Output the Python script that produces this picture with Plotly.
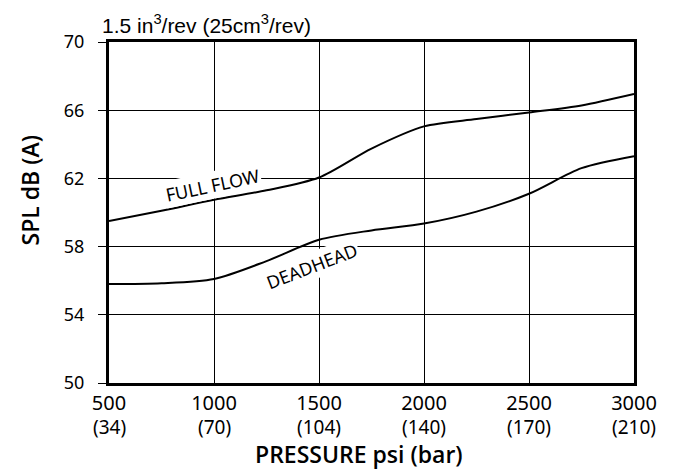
import plotly.graph_objects as go

pressure_psi = [500, 750, 1000, 1250, 1500, 1750, 2000, 2250, 2500, 2750, 3000]
full_flow_db = [59.5, 60.1, 60.75, 61.3, 62.05, 63.75, 65.05, 65.48, 65.87, 66.28, 66.95]
deadhead_db = [55.8, 55.85, 56.1, 57.15, 58.4, 58.95, 59.35, 60.05, 61.1, 62.6, 63.3]

x_tickvals = [500, 1000, 1500, 2000, 2500, 3000]
x_ticktext = ["500", "1000", "1500", "2000", "2500", "3000"]
x_bar_text = ["(34)", "(70)", "(104)", "(140)", "(170)", "(210)"]
y_tickvals = [50, 54, 58, 62, 66, 70]

FONT = "Noto Sans, Open Sans, sans-serif"
TFONT = "Open Sans, Noto Sans, sans-serif"

fig = go.Figure()
fig.add_trace(go.Scatter(x=pressure_psi, y=full_flow_db, mode="lines",
                         line=dict(color="black", width=2, shape="spline", smoothing=0.8),
                         showlegend=False, hoverinfo="skip"))
fig.add_trace(go.Scatter(x=pressure_psi, y=deadhead_db, mode="lines",
                         line=dict(color="black", width=2, shape="spline", smoothing=0.8),
                         showlegend=False, hoverinfo="skip"))

fig.add_annotation(x=995, y=61.6, text="FULL FLOW", showarrow=False, textangle=-12,
                   font=dict(family=FONT, size=18, color="black"), bgcolor="white",
                   borderpad=1)
fig.add_annotation(x=1467, y=56.85, text="DEADHEAD", showarrow=False, textangle=-21,
                   font=dict(family=FONT, size=18, color="black"), bgcolor="white",
                   borderpad=1)

# second line of x tick labels (bar)
for xv, t in zip(x_tickvals, x_bar_text):
    fig.add_annotation(x=xv, y=0, xref="x", yref="paper", yanchor="top", yshift=-30,
                       text=t, showarrow=False, borderpad=0,
                       font=dict(family=FONT, size=19, color="black"))

# top title
fig.add_annotation(xref="paper", yref="paper", x=0, y=1, xanchor="left", yanchor="bottom",
                   xshift=-9, yshift=3,
                   text="1.5 in<sup>3</sup>/rev (25cm<sup>3</sup>/rev)", showarrow=False,
                   font=dict(family="Liberation Sans, Arial, sans-serif", size=21, color="black"))

# axis titles
fig.add_annotation(xref="paper", yref="paper", x=0, y=0.5, xanchor="center", yanchor="middle",
                   xshift=-80, yshift=22, textangle=-90,
                   text="SPL dB (A)", showarrow=False,
                   font=dict(family=TFONT, size=23, color="black", weight=600))
fig.add_annotation(xref="paper", yref="paper", x=0.5, y=0, xanchor="center", yanchor="middle",
                   xshift=-13, yshift=-71, borderpad=0,
                   text="PRESSURE psi (bar)", showarrow=False,
                   font=dict(family=TFONT, size=23, color="black", weight=600))

fig.update_layout(
    width=678, height=470,
    margin=dict(l=101, r=52, t=34, b=95),
    paper_bgcolor="white", plot_bgcolor="white",
    font=dict(family=FONT, color="black"),
    xaxis=dict(range=[500, 3000], tickvals=x_tickvals, ticktext=x_ticktext,
               showgrid=True, gridcolor="black", gridwidth=1,
               showline=True, linecolor="black", linewidth=3, mirror=True,
               ticks="", tickfont=dict(size=20, family=FONT),
               zeroline=False, fixedrange=True),
    yaxis=dict(range=[50, 70], tickvals=y_tickvals,
               showgrid=True, gridcolor="black", gridwidth=1,
               showline=True, linecolor="black", linewidth=3, mirror=True,
               ticks="outside", ticklen=8, tickcolor="black", tickwidth=1,
               ticklabelstandoff=10,
               tickfont=dict(size=18, family=FONT),
               zeroline=False, fixedrange=True),
)

fig.write_html("out.html")
